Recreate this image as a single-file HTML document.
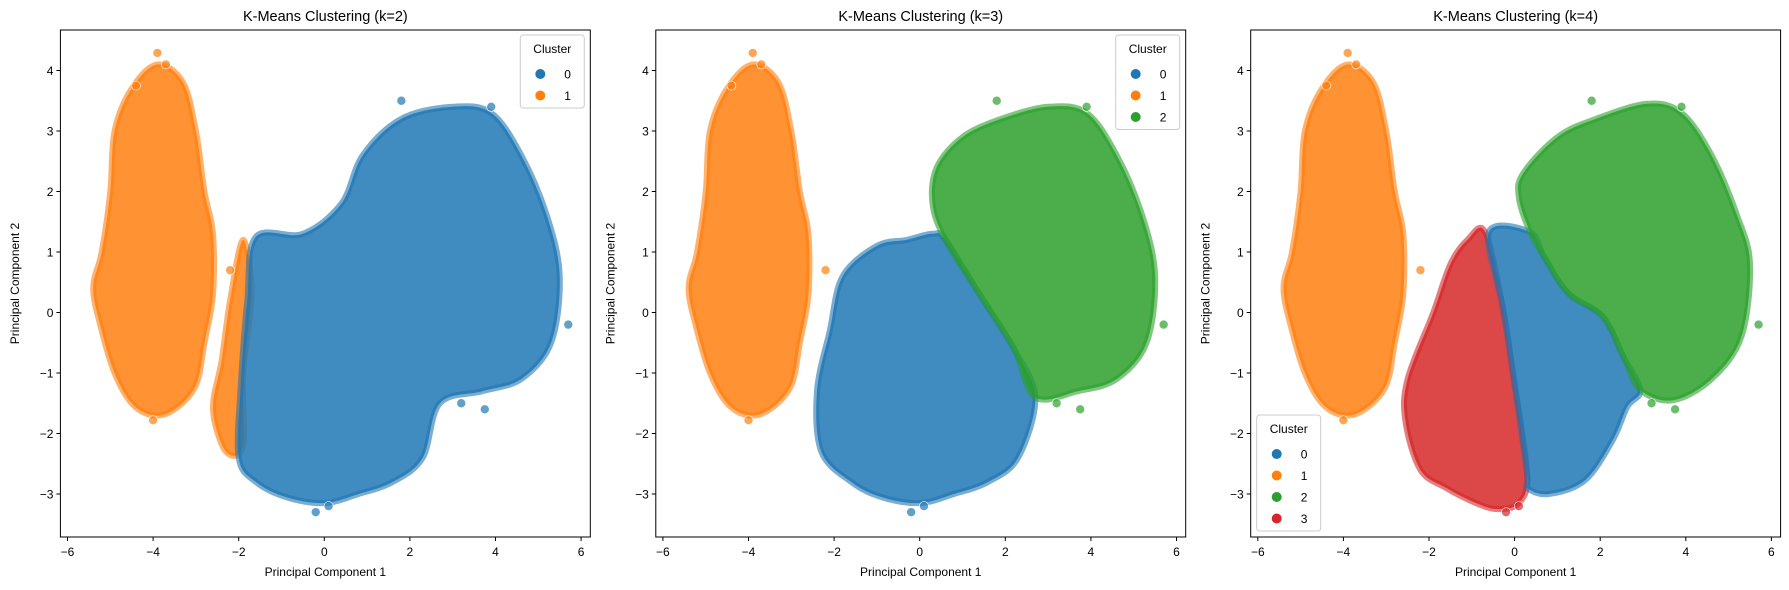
<!DOCTYPE html>
<html><head><meta charset="utf-8"><style>
body{margin:0;background:#fff;}
svg{display:block;font-family:"Liberation Sans","DejaVu Sans",sans-serif;}
</style></head><body>
<svg id="chart" width="1789" height="590"></svg>
<script>
// ---- data (principal component coordinates) ----
const panelTitles = ["K-Means Clustering (k=2)","K-Means Clustering (k=3)","K-Means Clustering (k=4)"];
const xTicks = [-6,-4,-2,0,2,4,6];
const yTicks = [-3,-2,-1,0,1,2,3,4];
const clusterColors = ["#1f77b4","#ff7f0e","#2ca02c","#d62728"];
const orangeHull = [[-3.9,4.1],[-3.3,3.8],[-3.0,3.0],[-2.8,2.0],[-2.6,1.3],[-2.6,0.3],[-2.8,-0.5],[-3.0,-1.2],[-3.5,-1.6],[-4.0,-1.7],[-4.5,-1.5],[-4.9,-1.0],[-5.2,-0.3],[-5.4,0.4],[-5.2,1.0],[-5.0,2.0],[-4.9,3.0],[-4.5,3.7]];
const k2Blue = [[-1.6,1.25],[-0.5,1.3],[0.4,1.8],[0.9,2.6],[1.8,3.2],[3.0,3.4],[3.9,3.3],[4.6,2.6],[5.2,1.6],[5.5,0.6],[5.3,-0.5],[4.6,-1.1],[3.7,-1.3],[2.7,-1.5],[2.3,-2.4],[1.6,-2.8],[0.8,-3.0],[0.0,-3.15],[-0.9,-3.05],[-1.6,-2.8],[-2.0,-2.4],[-1.95,-1.2],[-1.8,0.2]];
const k2OrangeTail = [[-1.9,1.2],[-1.7,0.3],[-1.9,-1.0],[-1.9,-2.2],[-2.3,-2.3],[-2.6,-1.6],[-2.4,-0.8],[-2.2,0.2]];
const k3Green = [[0.4,2.4],[1.0,2.9],[1.9,3.2],[3.0,3.4],[3.9,3.3],[4.6,2.6],[5.2,1.6],[5.5,0.6],[5.3,-0.5],[4.6,-1.1],[3.7,-1.3],[2.7,-1.4],[2.2,-0.6],[1.4,0.3],[0.6,1.2],[0.3,1.8]];
const k3Blue = [[-1.8,0.6],[-1.0,1.1],[-0.3,1.2],[0.3,1.3],[0.6,1.2],[1.4,0.3],[2.2,-0.6],[2.7,-1.4],[2.3,-2.4],[1.6,-2.8],[0.8,-3.0],[0.0,-3.15],[-0.9,-3.05],[-1.6,-2.8],[-2.3,-2.3],[-2.4,-1.3],[-2.1,-0.3]];
const k4Green = [[0.2,2.3],[1.0,2.9],[1.9,3.2],[3.1,3.45],[3.9,3.3],[4.6,2.6],[5.2,1.6],[5.5,0.8],[5.3,-0.4],[4.6,-1.1],[3.7,-1.45],[2.94,-1.28],[2.54,-0.73],[2.06,-0.07],[1.25,0.32],[0.69,0.92],[0.36,1.33],[0.1,1.9]];
const k4Blue = [[-0.6,1.33],[0.36,1.33],[0.69,0.92],[1.25,0.32],[2.06,-0.07],[2.54,-0.73],[2.94,-1.28],[2.63,-1.56],[2.3,-2.1],[1.65,-2.77],[0.8,-3.0],[0.3,-2.9],[0.29,-2.65],[-0.04,-1.0],[-0.28,0.1]];
const k4Red = [[-0.69,1.33],[-0.28,0.1],[-0.04,-1.0],[0.29,-2.65],[0.1,-3.15],[-0.4,-3.25],[-0.9,-3.15],[-1.6,-2.9],[-2.2,-2.6],[-2.55,-1.8],[-2.5,-1.1],[-1.9,0.0],[-1.5,0.8],[-1.1,1.2]];
const panelClusters = [
  [[orangeHull,1],[k2OrangeTail,1],[k2Blue,0]],
  [[orangeHull,1],[k3Blue,0],[k3Green,2]],
  [[orangeHull,1],[k4Red,3],[k4Blue,0],[k4Green,2]]
];
const outlierX = [-3.9,-3.7,-4.4,-2.2,-4.0,3.75,3.2,0.1,-0.2,5.7,1.8,3.9];
const outlierY = [4.29,4.1,3.75,0.7,-1.78,-1.6,-1.5,-3.2,-3.3,-0.2,3.5,3.4];
const outlierK2 = [1,1,1,1,1,0,0,0,0,0,0,0];
const outlierK3 = [1,1,1,1,1,2,2,0,0,2,2,2];
const outlierK4 = [1,1,1,1,1,2,2,3,3,2,2,2];
const outlierClusters = [outlierK2,outlierK3,outlierK4];
const legendCounts = [2,3,4];

const NS="http://www.w3.org/2000/svg";
const svg=document.getElementById('chart');
const offsets=[0,595.4,1190.3];
function X(p,v){return offsets[p]+324.3+42.8*v;}
function Y(v){return 312.5-60.5*v;}
function mk(tag,attrs,parent){const e=document.createElementNS(NS,tag);for(const k in attrs)e.setAttribute(k,attrs[k]);(parent||svg).appendChild(e);return e;}
function smooth(pts){
  const n=pts.length;let d='M'+pts[0][0].toFixed(1)+','+pts[0][1].toFixed(1);
  for(let i=0;i<n;i++){
    const p0=pts[(i-1+n)%n],p1=pts[i],p2=pts[(i+1)%n],p3=pts[(i+2)%n];
    const c1=[p1[0]+(p2[0]-p0[0])/6,p1[1]+(p2[1]-p0[1])/6];
    const c2=[p2[0]-(p3[0]-p1[0])/6,p2[1]-(p3[1]-p1[1])/6];
    d+='C'+c1[0].toFixed(1)+','+c1[1].toFixed(1)+' '+c2[0].toFixed(1)+','+c2[1].toFixed(1)+' '+p2[0].toFixed(1)+','+p2[1].toFixed(1);
  }
  return d+'Z';
}

for(let p=0;p<3;p++){
  const g=mk('g',{});
  
  
  const L=offsets[p]+60.4, R=offsets[p]+590.3, T=30, B=537;
  const clipId='clip'+p;
  const cp=mk('clipPath',{id:clipId},g); mk('rect',{x:L,y:T,width:R-L,height:B-T},cp);
  const pg=mk('g',{'clip-path':'url(#'+clipId+')'},g);
  panelClusters[p].forEach(([hull,c])=>{
    const pts=hull.map(d=>[X(p,d[0]),Y(d[1])]);
    const path=mk('path',{d:smooth(pts),fill:clusterColors[c],stroke:clusterColors[c],'stroke-width':6,'stroke-linejoin':'round','fill-opacity':0.85,'stroke-opacity':0.6},pg);
    
    
  });
  outlierX.forEach((x,i)=>{
    const c=outlierClusters[p][i];
    const pt=mk('circle',{cx:X(p,x),cy:Y(outlierY[i]),r:4.5,fill:clusterColors[c],'fill-opacity':0.7,stroke:'#fff','stroke-width':0.6},pg);
    
    
  });
  mk('rect',{x:L,y:T,width:R-L,height:B-T,fill:'none',stroke:'#000','stroke-width':1},g);
  xTicks.forEach(t=>{
    const x=X(p,t);
    mk('line',{x1:x,x2:x,y1:B,y2:B+4,stroke:'#000'},g);
    const tx=mk('text',{x:x,y:B+19,'font-size':12,'text-anchor':'middle',fill:'#000'},g);
    tx.textContent=(t<0?'\u2212'+(-t):t);
    
    
  });
  yTicks.forEach(t=>{
    const y=Y(t);
    mk('line',{x1:L-4,x2:L,y1:y,y2:y,stroke:'#000'},g);
    const tx=mk('text',{x:L-7,y:y+4.5,'font-size':12,'text-anchor':'end',fill:'#000'},g);
    tx.textContent=(t<0?'\u2212'+(-t):t);
    
    
  });
  const tt=mk('text',{x:(L+R)/2,y:21,'font-size':14.5,'text-anchor':'middle'},g);
  tt.textContent=panelTitles[p];
  
  
  const xl=mk('text',{x:(L+R)/2,y:576,'font-size':12,'text-anchor':'middle'},g);
  xl.textContent='Principal Component 1';
  
  
  const yl=mk('text',{x:0,y:0,'font-size':12,'text-anchor':'middle',transform:'translate('+(offsets[p]+19)+','+((T+B)/2)+') rotate(-90)'},g);
  yl.textContent='Principal Component 2';
  
  
  const n=legendCounts[p];
  const lw=64, lh=30+n*21.5;
  const lx = p<2 ? R-lw-6 : L+6;
  const ly = p<2 ? T+5 : B-lh-6;
  const lg=mk('g',{},g);
  
  
  mk('rect',{x:lx,y:ly,width:lw,height:lh,rx:3,fill:'#fff','fill-opacity':0.85,stroke:'#ccc'},lg);
  const lt=mk('text',{x:lx+lw/2,y:ly+18,'font-size':12,'text-anchor':'middle'},lg);
  lt.textContent='Cluster';
  for(let i=0;i<n;i++){
    const e=mk('g',{},lg);
    
    
    const cy=ly+39+i*21.5;
    mk('circle',{cx:lx+20,cy:cy,r:5,fill:clusterColors[i]},e);
    const et=mk('text',{x:lx+44,y:cy+4.5,'font-size':12},e);
    et.textContent=i;
  }
}
</script>
</body></html>
